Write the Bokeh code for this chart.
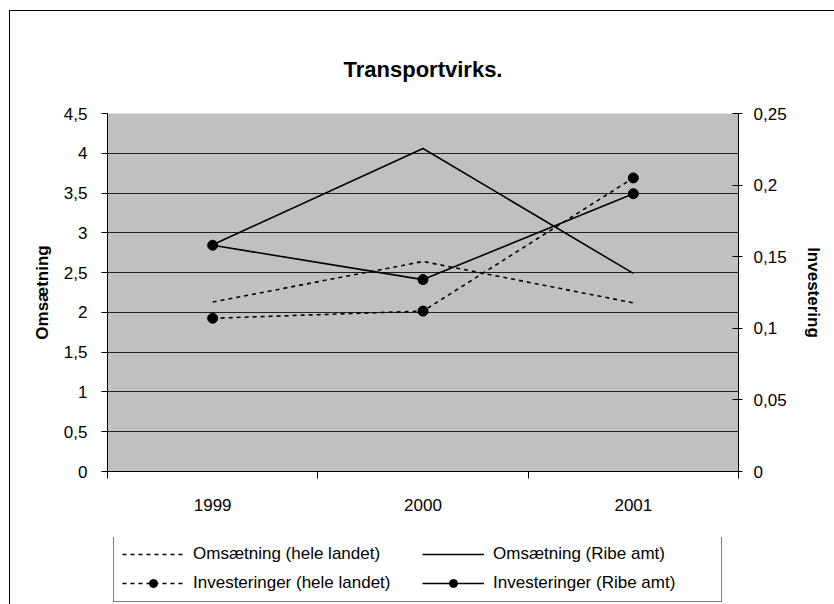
from bokeh.plotting import figure
from bokeh.layouts import column
from bokeh.models import (Range1d, LinearAxis, FixedTicker, Legend, LegendItem)
from bokeh.embed import file_html
from bokeh.resources import INLINE

# ---- data ----
years = ["1999", "2000", "2001"]
oms_hele = [2.13, 2.64, 2.12]      # Omsætning (hele landet)
oms_ribe = [2.85, 4.06, 2.49]      # Omsætning (Ribe amt)
inv_hele = [0.107, 0.112, 0.205]   # Investeringer (hele landet)
inv_ribe = [0.158, 0.134, 0.194]   # Investeringer (Ribe amt)

left_ticks = [0, 0.5, 1, 1.5, 2, 2.5, 3, 3.5, 4, 4.5]
left_labels = ["0", "0,5", "1", "1,5", "2", "2,5", "3", "3,5", "4", "4,5"]
right_ticks = [0, 0.05, 0.1, 0.15, 0.2, 0.25]
right_labels = ["0", "0,05", "0,1", "0,15", "0,2", "0,25"]
series_names = ["Omsætning (hele landet)", "Omsætning (Ribe amt)",
                "Investeringer (hele landet)", "Investeringer (Ribe amt)"]

FONT = "Liberation Sans"
FS = "17px"
LW = 1.6
x = [i + 0.5 for i in range(len(years))]
bounds = list(range(len(years) + 1))

# ---------------- main chart ----------------
p = figure(frame_width=631, frame_height=358,
           min_border_left=97, min_border_right=96,
           min_border_top=102, min_border_bottom=66,
           x_range=Range1d(0, len(years)), y_range=Range1d(0, 4.5),
           output_backend="svg", toolbar_location=None,
           background_fill_color="#C0C0C0", border_fill_color="white",
           title="Transportvirks.")
p.outline_line_color = None
p.extra_y_ranges = {"inv": Range1d(0, 0.25)}

p.title.align = "center"
p.title.text_font = FONT
p.title.text_font_size = "22px"
p.title.text_font_style = "bold"
p.title.text_color = "black"
p.title.standoff = 64

# x axis
xa = p.xaxis[0]
xa.ticker = FixedTicker(ticks=x, minor_ticks=bounds)
xa.major_label_overrides = {xi: y for xi, y in zip(x, years)}
xa.major_tick_in = 0
xa.major_tick_out = 0
xa.minor_tick_in = 0
xa.minor_tick_out = 7
xa.minor_tick_line_color = "black"
xa.axis_line_color = "black"
xa.major_label_standoff = 20
xa.major_label_text_font = FONT
xa.major_label_text_font_size = FS
xa.major_label_text_color = "black"

# left axis
ya = p.yaxis[0]
ya.ticker = FixedTicker(ticks=left_ticks, minor_ticks=[])
ya.major_label_overrides = {t: l for t, l in zip(left_ticks, left_labels)}
ya.major_tick_in = 0
ya.major_tick_out = 6
ya.major_tick_line_color = "black"
ya.axis_line_color = "black"
ya.major_label_standoff = 14
ya.major_label_text_font = FONT
ya.major_label_text_font_size = FS
ya.major_label_text_color = "black"
ya.axis_label = "Omsætning"
ya.axis_label_text_font = FONT
ya.axis_label_text_font_size = FS
ya.axis_label_text_font_style = "bold"
ya.axis_label_text_color = "black"
ya.axis_label_standoff = 9

# right axis
ra = LinearAxis(y_range_name="inv",
                ticker=FixedTicker(ticks=right_ticks, minor_ticks=[]))
ra.major_label_overrides = {t: l for t, l in zip(right_ticks, right_labels)}
ra.major_tick_in = 6
ra.major_tick_out = 4
ra.major_tick_line_color = "black"
ra.axis_line_color = "black"
ra.major_label_standoff = 11
ra.major_label_text_font = FONT
ra.major_label_text_font_size = FS
ra.major_label_text_color = "black"
ra.axis_label = "Investering"
ra.axis_label_text_font = FONT
ra.axis_label_text_font_size = FS
ra.axis_label_text_font_style = "bold"
ra.axis_label_text_color = "black"
ra.axis_label_standoff = 14
p.add_layout(ra, "right")

p.xgrid.visible = False
p.ygrid.grid_line_color = "#222222"
p.ygrid.grid_line_width = 1

# series
p.line(x, oms_hele, line_color="black", line_width=LW, line_dash="4 4")
p.line(x, oms_ribe, line_color="black", line_width=LW)
p.line(x, inv_hele, y_range_name="inv", line_color="black",
       line_width=LW, line_dash="4 4")
p.scatter(x, inv_hele, y_range_name="inv", size=10, color="black")
p.line(x, inv_ribe, y_range_name="inv", line_color="black", line_width=LW)
p.scatter(x, inv_ribe, y_range_name="inv", size=10, color="black")

# ---------------- legend strip (own figure, same width) ----------------
# key renderers carry the series data but lie outside this strip's ranges,
# so only their legend keys are seen
lg = figure(width=824, height=67, min_border=0, title=None,
            x_range=Range1d(100, 101), y_range=Range1d(100, 101),
            x_axis_type=None, y_axis_type=None,
            output_backend="svg", toolbar_location=None,
            background_fill_color="white", border_fill_color="white")
lg.outline_line_color = None
lg.xgrid.visible = False
lg.ygrid.visible = False

k1 = lg.line(x, oms_hele, line_color="black", line_width=LW, line_dash="4 4")
k2 = lg.line(x, oms_ribe, line_color="black", line_width=LW)
k3 = lg.line(x, inv_hele, line_color="black", line_width=LW, line_dash="4 4")
k3m = lg.scatter(x, inv_hele, size=7, color="black")
k4 = lg.line(x, inv_ribe, line_color="black", line_width=LW)
k4m = lg.scatter(x, inv_ribe, size=7, color="black")

legend = Legend(items=[
    LegendItem(label=series_names[0], renderers=[k1]),
    LegendItem(label=series_names[1], renderers=[k2]),
    LegendItem(label=series_names[2], renderers=[k3, k3m]),
    LegendItem(label=series_names[3], renderers=[k4, k4m]),
], location=(6, 2), orientation="horizontal", ncols=2,
    border_line_color="black", border_line_width=1,
    background_fill_color="white", background_fill_alpha=1,
    label_text_font=FONT, label_text_font_size=FS, label_text_color="black",
    glyph_width=62, glyph_height=20, label_standoff=9, label_width=220,
    padding=8, spacing=9, margin=0)
lg.add_layout(legend, "center")

page = column(p, lg, spacing=0)
page.margin = (10, 0, 0, 9)
page.styles = {"border-top": "1px solid black", "border-left": "1px solid black"}

open("out.html", "w").write(file_html(page, INLINE))
